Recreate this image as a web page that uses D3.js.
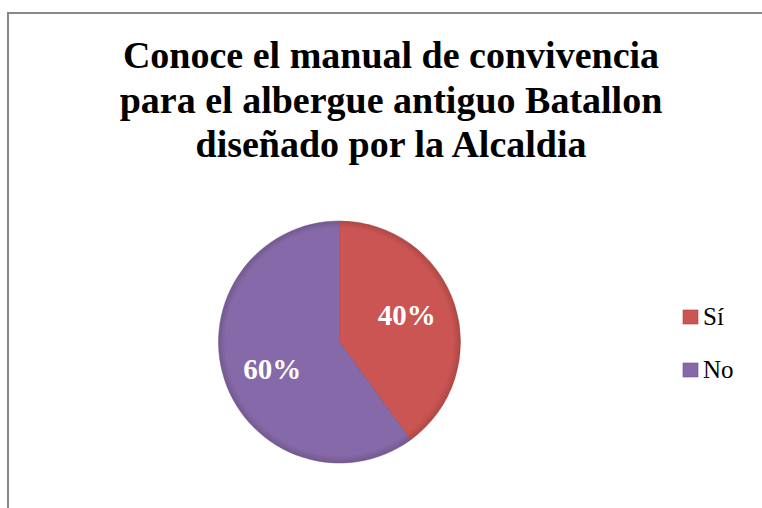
<!DOCTYPE html>
<html><head><meta charset="utf-8">
<script src="https://cdn.jsdelivr.net/npm/d3@7"></script>
<style>
html,body{margin:0;padding:0;background:#fff;}
#wrap{position:relative;width:762px;height:508px;overflow:hidden;}
svg{display:block;position:absolute;left:0;top:0;}
.t{position:absolute;white-space:nowrap;font-family:'Liberation Serif','Times New Roman',serif;line-height:1;margin:0;}
</style>
</head><body>
<div id="wrap"><svg id="c" width="762" height="508"></svg></div>
<script>
const categories = ["Sí", "No"];
const values = [40, 60];
const labels = ["40%", "60%"];
const titleLines = ["Conoce el manual de convivencia", "para el albergue antiguo Batallon", "diseñado por la Alcaldia"];
const colors = ["#CB5552", "#8669A8"];

const wrap = d3.select("#wrap");
const svg = d3.select("#c");
const ASC = 0.8375; // baseline offset for line-height:1 in Liberation Serif

function addText(str, x, baseline, size, opts) {
  const el = wrap.append("div").attr("class","t").text(str)
    .style("font-size", size + "px")
    .style("font-weight", opts.bold ? "bold" : "normal")
    .style("color", opts.color || "#000")
    .style("top", (baseline - ASC*size) + "px");
  if (opts.center) {
    el.style("left", x + "px").style("transform","translateX(-50%)");
  } else {
    el.style("left", x + "px");
  }
  return el;
}

svg.append("path").attr("d", "M8,508 L8,13 L762,13").attr("fill","none").attr("stroke","#888888").attr("stroke-width",2);

titleLines.forEach((t,i)=> addText(t, 391, 68 + i*44.5, 38, {bold:true, center:true}));

const cx = 339.5, cy = 342, r = 121;
const defs = svg.append("defs");
colors.forEach((c,i)=>{
  const rg = defs.append("radialGradient").attr("id","g"+i).attr("cx",0).attr("cy",0).attr("r",r)
    .attr("fx",-6).attr("fy",-6).attr("gradientUnits","userSpaceOnUse");
  rg.append("stop").attr("offset","0%").attr("stop-color",c);
  rg.append("stop").attr("offset","94%").attr("stop-color",c);
  rg.append("stop").attr("offset","100%").attr("stop-color",d3.color(c).darker(0.45));
});

const pie = d3.pie().sort(null).value(d=>d);
const arcs = pie(values);
const arc = d3.arc().innerRadius(0).outerRadius(r);
const pg = svg.append("g").attr("transform",`translate(${cx},${cy})`);
pg.selectAll("path.slice").data(arcs).join("path").attr("class","slice")
  .attr("d",arc).attr("fill",(d,i)=>`url(#g${i})`)
  .attr("stroke",(d,i)=>d3.color(colors[i]).darker(0.7)).attr("stroke-width",0.8).attr("stroke-opacity",0.6);

const shift = -4*Math.PI/180;
const labelArc = d3.arc().innerRadius(r*0.6).outerRadius(r*0.6);
arcs.forEach((d,i)=>{
  const p = labelArc.centroid({startAngle:d.startAngle+shift,endAngle:d.endAngle+shift});
  addText(labels[i], cx+p[0], cy+p[1]+10, 29, {bold:true, center:true, color:"#fff"});
});

categories.forEach((c,i)=>{
  const y = 317 + i*53;
  svg.append("rect").attr("x",683).attr("y",y-7).attr("width",15).attr("height",14).attr("fill",colors[i])
    .attr("stroke",d3.color(colors[i]).darker(0.6)).attr("stroke-width",0.6);
  addText(c, 703, y+8, 25, {});
});
</script>
</body></html>
